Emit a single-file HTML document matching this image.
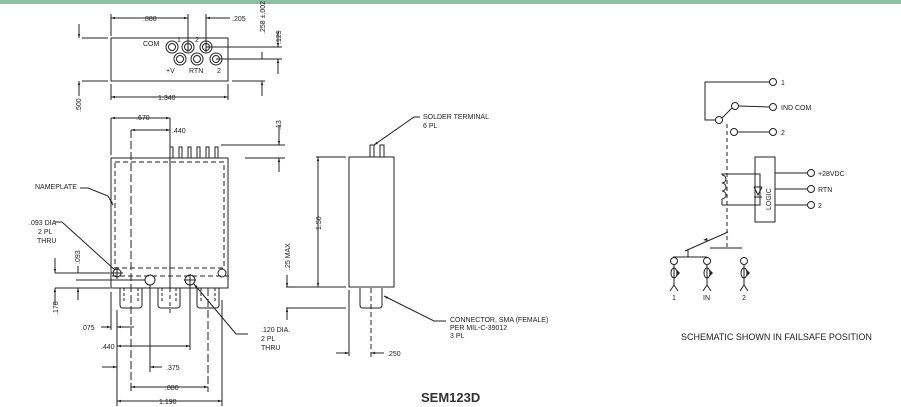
<!DOCTYPE html>
<html><head><meta charset="utf-8"><style>
html,body{margin:0;padding:0;background:#fff;width:901px;height:407px;overflow:hidden}
svg{display:block}
text{font-family:"Liberation Sans",sans-serif;fill:#222}
.t{font-size:7px}
</style></head><body>
<svg width="901" height="407" viewBox="0 0 901 407" xmlns="http://www.w3.org/2000/svg">
<defs>
<marker id="a" viewBox="0 0 10 10" refX="10" refY="5" markerWidth="6" markerHeight="4" orient="auto-start-reverse"><path d="M0,2 L10,5 L0,8z" fill="#222"/></marker>
</defs>
<rect x="0" y="0" width="901" height="4" fill="#8dbfa3"/>
<g stroke="#222" stroke-width="1" fill="none">
<rect x="111" y="38" width="117" height="43"/>
<circle cx="172" cy="47" r="6"/><circle cx="172" cy="47" r="3.5"/>
<circle cx="188" cy="47" r="6"/><circle cx="188" cy="47" r="3.5"/>
<circle cx="206" cy="47" r="6"/><circle cx="206" cy="47" r="3.5"/>
<circle cx="180" cy="59" r="6"/><circle cx="180" cy="59" r="3.5"/>
<circle cx="197" cy="59" r="6"/><circle cx="197" cy="59" r="3.5"/>
<circle cx="216" cy="59" r="6"/><circle cx="216" cy="59" r="3.5"/>
<line x1="111" y1="14" x2="111" y2="36"/><line x1="188" y1="14" x2="188" y2="52"/><line x1="206" y1="14" x2="206" y2="52"/>
<line x1="111" y1="18" x2="188" y2="18" marker-start="url(#a)" marker-end="url(#a)"/>
<line x1="230" y1="18" x2="206" y2="18" marker-end="url(#a)"/>
<line x1="82" y1="38" x2="108" y2="38"/><line x1="82" y1="81" x2="108" y2="81"/>
<line x1="79" y1="24" x2="79" y2="38" marker-end="url(#a)"/><line x1="79" y1="96" x2="79" y2="81" marker-end="url(#a)"/>
<line x1="232" y1="81" x2="265" y2="81"/>
<line x1="262" y1="96" x2="262" y2="81" marker-end="url(#a)"/>
<line x1="206" y1="47" x2="282" y2="47"/><line x1="216" y1="59" x2="282" y2="59"/>
<line x1="262" y1="52" x2="262" y2="59"/>
<line x1="278" y1="32" x2="278" y2="47" marker-end="url(#a)"/><line x1="278" y1="74" x2="278" y2="59" marker-end="url(#a)"/>
<line x1="111" y1="84" x2="111" y2="100"/><line x1="228" y1="84" x2="228" y2="100"/>
<line x1="111" y1="97" x2="228" y2="97" marker-start="url(#a)" marker-end="url(#a)"/>
<rect x="111" y="158" width="117" height="130"/>
<rect x="115" y="162" width="109" height="106" stroke-dasharray="5,3"/>
<line x1="112" y1="276" x2="230" y2="276" stroke-dasharray="5,3"/>
<path d="M170,158V147h3v11M179,158V147h3v11M188,158V147h3v11M197,158V147h3v11M206,158V147h3v11M215,158V147h3v11"/>
<line x1="221" y1="145" x2="285" y2="145"/><line x1="245" y1="158" x2="285" y2="158"/>
<line x1="279" y1="125" x2="279" y2="145" marker-end="url(#a)"/><line x1="279" y1="172" x2="279" y2="158" marker-end="url(#a)"/>
<circle cx="117" cy="273" r="4"/><circle cx="222" cy="273" r="4"/>
<circle cx="150" cy="280" r="5"/><circle cx="190" cy="280" r="5"/>
<line x1="117" y1="267" x2="117" y2="279"/><line x1="111" y1="273" x2="123" y2="273"/>
<line x1="190" y1="274" x2="190" y2="286"/><line x1="184" y1="280" x2="196" y2="280"/>
<path d="M120,288v17q0,3 3,3h16q3,0 3,-3v-17M158,288v17q0,3 3,3h16q3,0 3,-3v-17M197,288v17q0,3 3,3h16q3,0 3,-3v-17"/>
<path d="M124,288v15M138,288v15M162,288v15M176,288v15M201,288v15M215,288v15" stroke-dasharray="3,2"/>
<line x1="111" y1="118" x2="111" y2="155"/>
<line x1="111" y1="118" x2="170" y2="118" marker-start="url(#a)" marker-end="url(#a)"/>
<line x1="131" y1="130" x2="170" y2="130" marker-start="url(#a)" marker-end="url(#a)"/>
<line x1="131" y1="130" x2="131" y2="392" stroke-dasharray="8,3"/>
<line x1="170" y1="118" x2="170" y2="288"/>
<line x1="170" y1="288" x2="170" y2="316" stroke-dasharray="4,3"/>
<line x1="150" y1="285" x2="150" y2="372"/><line x1="190" y1="285" x2="190" y2="350"/>
<line x1="117" y1="310" x2="117" y2="406"/><line x1="222" y1="300" x2="222" y2="406"/>
<line x1="208" y1="288" x2="208" y2="392" stroke-dasharray="8,3"/>
<line x1="111" y1="292" x2="111" y2="330"/>
<line x1="101" y1="327" x2="111" y2="327" marker-end="url(#a)"/><line x1="134" y1="327" x2="117" y2="327" marker-end="url(#a)"/>
<line x1="117" y1="346" x2="190" y2="346" marker-start="url(#a)" marker-end="url(#a)"/>
<line x1="102" y1="367" x2="117" y2="367" marker-end="url(#a)"/><line x1="162" y1="367" x2="150" y2="367" marker-end="url(#a)"/>
<line x1="131" y1="387" x2="208" y2="387" marker-start="url(#a)" marker-end="url(#a)"/>
<line x1="117" y1="401" x2="222" y2="401" marker-start="url(#a)" marker-end="url(#a)"/>
<line x1="55" y1="273" x2="110" y2="273"/><line x1="76" y1="280" x2="145" y2="280"/><line x1="55" y1="288" x2="110" y2="288"/>
<line x1="55" y1="258" x2="55" y2="273" marker-end="url(#a)"/><line x1="55" y1="305" x2="55" y2="288" marker-end="url(#a)"/>
<line x1="78" y1="266" x2="78" y2="273"/><line x1="78" y1="300" x2="78" y2="288" marker-end="url(#a)"/>
<path d="M55,222H62L115,270" /><path d="M80,188H88L108,196L113,205" marker-end="url(#a)"/>
<path d="M248,334H236L194,284" marker-end="url(#a)"/>
<rect x="349" y="157" width="45" height="130"/>
<path d="M370,157v-12h4v12M380,157v-12h4v12"/>
<path d="M360,288v17q0,3 3,3h16q3,0 3,-3v-17"/>
<line x1="371" y1="288" x2="371" y2="360" stroke-dasharray="5,3"/>
<line x1="349" y1="290" x2="349" y2="356"/>
<line x1="316" y1="157" x2="346" y2="157"/><line x1="286" y1="287" x2="346" y2="287"/>
<line x1="318" y1="157" x2="318" y2="287" marker-start="url(#a)" marker-end="url(#a)"/>
<line x1="286" y1="308" x2="346" y2="308"/>
<line x1="287" y1="275" x2="287" y2="287" marker-end="url(#a)"/><line x1="287" y1="320" x2="287" y2="308" marker-end="url(#a)"/>
<line x1="336" y1="353" x2="349" y2="353" marker-end="url(#a)"/><line x1="384" y1="353" x2="371" y2="353" marker-end="url(#a)"/>
<path d="M420,117H414L374,145" marker-end="url(#a)"/>
<path d="M446,321H434L384,296" marker-end="url(#a)"/>
<circle cx="773" cy="82" r="3.5"/><circle cx="773" cy="107" r="3.5"/><circle cx="773" cy="132" r="3.5"/>
<circle cx="719" cy="120" r="3.5"/><circle cx="735" cy="106" r="3.5"/><circle cx="734" cy="132" r="3.5"/>
<path d="M769,82H705V120H716"/><line x1="722" y1="118" x2="732" y2="108"/>
<line x1="739" y1="106" x2="769" y2="107"/><line x1="738" y1="132" x2="769" y2="132"/>
<line x1="727" y1="124" x2="727" y2="248" stroke-dasharray="4,3"/>
<rect x="755" y="157" width="20" height="65"/>
<path d="M722,175a4,4 0 0 1 0,8a4,4 0 0 1 0,8a4,4 0 0 1 0,8M722,175V174H760V205H722M722,199V205"/>
<path d="M754,187h8M754,197h8M754,187l4,8l4,-8"/>
<line x1="775" y1="173" x2="807" y2="173"/><line x1="775" y1="189" x2="807" y2="189"/><line x1="775" y1="205" x2="807" y2="205"/>
<circle cx="811" cy="173" r="3.5"/><circle cx="811" cy="189" r="3.5"/><circle cx="811" cy="205" r="3.5"/>
<line x1="685" y1="251" x2="728" y2="232"/><line x1="710" y1="248" x2="742" y2="248"/>
<path d="M688,249V257M673,257H707"/>
<circle cx="674" cy="261" r="3.5"/><circle cx="707" cy="261" r="3.5"/><circle cx="744" cy="261" r="3.5"/>
<path d="M674,265v20l-4,6M674,285l4,6M707,265v20l-4,6M707,285l4,6M744,265v20l-4,6M744,285l4,6"/>
<ellipse cx="674" cy="273" rx="3" ry="5"/><ellipse cx="707" cy="273" rx="3" ry="5"/><ellipse cx="744" cy="273" rx="3" ry="5"/>
</g>
<g fill="#222"><path d="M677,270l3,3l-3,3zM710,270l3,3l-3,3zM747,270l3,3l-3,3z"/><path d="M703,240l4,-2l1,3z"/></g>
<g class="t">
<text x="143" y="46">COM</text><text x="177" y="42">1</text><text x="195" y="42">2</text>
<text x="166" y="73">+V</text><text x="189" y="73">RTN</text><text x="217" y="73">2</text>
<text x="143" y="21">.888</text><text x="232" y="21">.205</text><text x="158" y="100">1.340</text>
<text transform="translate(265,34) rotate(-90)">.258 ±.002</text>
<text transform="translate(281,44) rotate(-90)">.129</text>
<text transform="translate(81,112) rotate(-90)">.500</text>
<text x="136" y="120">.670</text><text x="172" y="133">.440</text>
<text transform="translate(281,130) rotate(-90)">.13</text>
<text x="35" y="189">NAMEPLATE</text>
<text x="29" y="225">.093 DIA</text><text x="38" y="234">2 PL</text><text x="37" y="243">THRU</text>
<text transform="translate(80,264) rotate(-90)">.093</text>
<text transform="translate(58,315) rotate(-90)">.170</text>
<text x="81" y="330">.075</text><text x="101" y="349">.440</text><text x="166" y="370">.375</text>
<text x="165" y="390">.880</text><text x="159" y="404">1.190</text>
<text x="261" y="332">.120 DIA.</text><text x="261" y="341">2 PL</text><text x="261" y="350">THRU</text>
<text transform="translate(290,270) rotate(-90)">.25 MAX</text>
<text transform="translate(321,230) rotate(-90)">1.50</text>
<text x="423" y="119">SOLDER TERMINAL</text><text x="423" y="128">6 PL</text>
<text x="450" y="322">CONNECTOR, SMA (FEMALE)</text><text x="450" y="330">PER MIL-C-39012</text><text x="450" y="338">3 PL</text>
<text x="387" y="356">.250</text>
<text x="781" y="85">1</text><text x="781" y="110">IND COM</text><text x="781" y="135">2</text>
<text x="818" y="176">+28VDC</text><text x="818" y="192">RTN</text><text x="818" y="208">2</text>
<text transform="translate(771,210) rotate(-90)">LOGIC</text>
<text x="672" y="300">1</text><text x="703" y="300">IN</text><text x="742" y="300">2</text>
</g>
<text x="681" y="340" style="font-size:9px">SCHEMATIC SHOWN IN FAILSAFE POSITION</text>
<text x="421" y="402" style="font-size:13px;font-weight:bold;fill:#333">SEM123D</text>
</svg>
</body></html>
